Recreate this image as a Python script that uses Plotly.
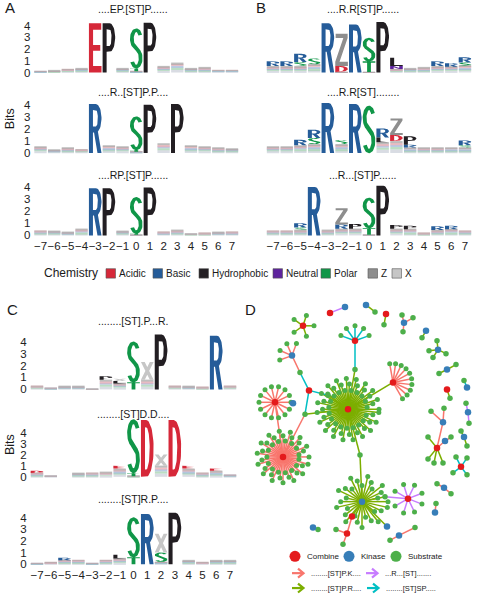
import numpy as np
import plotly.graph_objects as go

W, H = 477, 600
FONT = "Liberation Sans, Arial, sans-serif"

# chemistry colour scheme (ggseqlogo style + Z/X)
CHEM_NAMES = ["Acidic", "Basic", "Hydrophobic", "Neutral", "Polar", "Z", "X"]
CHEM_COLORS = ["#d62839", "#255c99", "#221e22", "#5e239d", "#109648", "#8e8e8e", "#c6c6c6"]
LETTER_CHEM = {"D": "Acidic", "E": "Acidic", "R": "Basic", "K": "Basic",
               "P": "Hydrophobic", "L": "Hydrophobic", "N": "Neutral",
               "S": "Polar", "T": "Polar", "Z": "Z", "X": "X"}

POSITIONS = list(range(-7, 8))

# ---------------- logo data (bits) ----------------
# A
a1_title = "....EP.[ST]P......"
a1_let = ["E", "P", "T", "S", "P"]
a1_pos = [-3, -2, 0, 0, 1]
a1_h = [4.2, 4.2, 0.25, 3.4, 4.25]
a1_noise = [0.1, 0.15, 0.3, 0.35, 0, 0, 0.35, 0.1, 0, 0.55, 0.85, 0.35, 0.4, 0.2, 0.2]

a2_title = "....R..[ST]P.P...."
a2_let = ["R", "T", "S", "P", "P"]
a2_pos = [-3, 0, 0, 1, 3]
a2_h = [4.1, 0.15, 2.8, 4.05, 4.1]
a2_noise = [0.5, 0.25, 0.4, 0.3, 0, 0.6, 0.5, 0.1, 0, 0.8, 0, 0.6, 0.5, 0.4, 0.35]

a3_title = "....RP.[ST]P......"
a3_let = ["R", "P", "T", "S", "P"]
a3_pos = [-3, -2, 0, 0, 1]
a3_h = [3.9, 3.9, 0.1, 3.0, 3.95]
a3_noise = [0.4, 0.35, 0.25, 0.5, 0, 0, 0.35, 0.05, 0, 0.3, 0.45, 0.15, 0.2, 0.25, 0.3]

# B
b1_title = "....R.R[ST]P......"
b1_let = ["R", "R", "S", "R", "S", "R", "D", "Z", "R", "T", "S", "P", "N", "L", "R", "R", "S", "R"]
b1_pos = [-7, -6, -5, -5, -4, -3, -2, -2, -1, 0, 0, 1, 2, 2, 5, 6, 7, 7]
b1_h = [0.4, 0.4, 0.35, 0.7, 0.5, 4.2, 0.5, 2.75, 4.1, 0.9, 2.0, 4.3, 0.25, 0.7, 0.4, 0.3, 0.25, 0.45]
b1_noise = [0.55, 0.55, 0.55, 0.7, 0, 0.05, 0, 0.05, 0, 0.3, 0.35, 0.4, 0.55, 0.5, 0.6]

b2_title = "....R.R[ST]........"
b2_let = ["R", "S", "R", "R", "S", "R", "S", "L", "R", "D", "Z", "R", "P", "S", "R"]
b2_pos = [-5, -4, -4, -3, -2, -1, 0, 1, 1, 2, 2, 3, 3, 7, 7]
b2_h = [0.45, 0.5, 0.7, 4.2, 0.35, 4.1, 3.95, 0.4, 0.75, 0.5, 1.4, 0.25, 0.7, 0.2, 0.4]
b2_noise = [0.55, 0.55, 0.65, 0.75, 0, 0.75, 0, 0, 0.9, 1.0, 0.45, 0.4, 0.4, 0.45, 0.45]

b3_title = "...R...[ST]P......"
b3_let = ["S", "R", "R", "R", "Z", "P", "T", "S", "P", "P", "P", "R", "R"]
b3_pos = [-5, -5, -4, -2, -2, -1, 0, 0, 1, 2, 3, 5, 6]
b3_h = [0.2, 0.35, 4.0, 0.35, 1.35, 0.4, 0.55, 2.5, 4.1, 0.3, 0.3, 0.3, 0.3]
b3_noise = [0.4, 0.4, 0.45, 0, 0.45, 0.55, 0.55, 0.05, 0, 0.55, 0.5, 0.2, 0.45, 0.5, 0.4]

# C
c1_title = "........[ST].P...R."
c1_let = ["P", "L", "X", "T", "S", "X", "P", "R"]
c1_pos = [-2, -1, -1, 0, 0, 1, 2, 6]
c1_h = [0.3, 0.2, 0.2, 0.6, 3.4, 1.5, 4.6, 4.5]
c1_noise = [0.3, 0.1, 0.25, 0.25, 0.05, 0.8, 0.5, 0, 0.8, 0, 0.3, 0.25, 0.2, 0, 0.3]

c2_title = "........[ST]D.D...."
c2_let = ["D", "E", "T", "S", "D", "X", "D", "E", "E"]
c2_pos = [-7, -1, 0, 0, 1, 2, 3, 4, 6]
c2_h = [0.2, 0.25, 0.3, 4.9, 5.2, 1.05, 5.2, 0.25, 0.2]
c2_noise = [0.35, 0.1, 0, 0.3, 0.35, 0.4, 0.75, 0.05, 0, 1.0, 0, 0.75, 0.35, 0.55, 0.2]

c3_title = "........[ST]R.P...."
c3_let = ["R", "L", "T", "S", "R", "S", "X", "P"]
c3_pos = [-5, -1, 0, 0, 1, 2, 2, 3]
c3_h = [0.2, 0.3, 0.6, 3.4, 4.3, 0.8, 1.6, 4.4]
c3_noise = [0.05, 0.15, 0.35, 0.35, 0.05, 0.35, 0.5, 0, 0, 0.2, 0, 0.3, 0.15, 0.3, 0.3]

# ---------------- network data ----------------
MOTIFS = ["PK", "PR", "SP", "R_ST"]
MOTIF_LABELS = ["........[ST]P.K....", "........[ST]P.R....", "........[ST]SP.....", "...R...[ST]......."]
MOTIF_COLORS = ["#f8766d", "#7cae00", "#00bfc4", "#c77cff"]
KIND_NAMES = ["Combine", "Kinase", "Substrate"]
KIND_COLORS = ["#e41a1c", "#377eb8", "#4daf4a"]

node_id = ["H1", "H2", "H3", "H4", "H5", "H6", "H7", "H8", "H9", "H10",
           "J1", "N4b", "N5b", "N6b", "N9b", "N10b", "K1", "R1", "R2", "L1", "L2", "K2",
           "a1", "a2", "b1", "b2", "c1", "c2", "d0", "d1", "d2", "d3", "e1", "e2",
           "f0", "f1", "f2", "f3", "f4", "g0", "g1", "g2", "h1", "h2", "i1", "i2",
           "j0", "j1", "j2", "k0", "k1", "k2", "m0", "m1", "m2", "m3", "m4", "m5", "m6",
           "n0", "n1", "n2", "o0", "o1", "o2", "o3", "o4", "p1", "p2", "p3", "q1", "q2",
           "r1", "r2", "r3", "s1", "s2"]
node_x = [348, 283, 275, 309, 355, 292, 303, 393, 362, 408,
          305, 328, 355, 300, 360, 385, 293, 352, 347, 343, 336, 387,
          330, 345, 366, 375, 386, 384, 404, 402, 413, 403, 426, 422,
          438, 437, 429, 446, 433, 447, 439, 456, 447, 450, 464, 467,
          468, 466, 469, 443, 431, 444, 437, 428, 428, 434, 443, 445, 451,
          464, 461, 467, 461, 456, 467, 453, 467, 437, 444, 451, 436, 435,
          415, 399, 390, 313, 318]
node_y = [412, 460, 405, 393, 343, 358, 328, 385, 505, 502,
          417, 398, 372, 375, 458, 500, 406, 520, 537, 548, 533, 530,
          315, 309, 307, 314, 316, 327, 325, 317, 320, 334, 333, 340,
          352, 343, 353, 356, 360, 372, 376, 367, 392, 401, 383, 390,
          415, 406, 426, 425, 414, 411, 451, 440, 462, 466, 466, 444, 440,
          440, 434, 449, 470, 460, 461, 476, 478, 487, 491, 497, 507, 516,
          531, 539, 544, 531, 533]
node_kind = ["Combine", "Combine", "Combine", "Combine", "Combine", "Kinase", "Combine", "Combine", "Kinase", "Combine",
             "Substrate", "Substrate", "Substrate", "Substrate", "Substrate", "Substrate", "Kinase", "Combine", "Combine",
             "Substrate", "Substrate", "Kinase",
             "Combine", "Kinase", "Kinase", "Substrate", "Combine", "Substrate", "Kinase", "Substrate", "Substrate",
             "Substrate", "Kinase", "Substrate",
             "Kinase", "Substrate", "Substrate", "Substrate", "Substrate", "Kinase", "Substrate", "Substrate",
             "Combine", "Substrate", "Substrate", "Kinase",
             "Kinase", "Substrate", "Substrate", "Kinase", "Substrate", "Substrate", "Combine", "Substrate",
             "Substrate", "Substrate", "Substrate", "Kinase", "Substrate",
             "Kinase", "Substrate", "Substrate", "Combine", "Substrate", "Substrate", "Substrate", "Substrate",
             "Substrate", "Kinase", "Substrate", "Substrate", "Kinase",
             "Substrate", "Kinase", "Substrate", "Kinase", "Substrate"]

edge_src = ["H5", "N5b", "H6", "N6b", "H4", "N4b", "H4", "J1", "H3", "J1", "H8", "H1", "N9b", "H9", "N10b",
            "H9", "R1", "R2", "R2", "H9",
            "a1", "b1", "c1", "d0", "d0", "d0", "e1", "f0", "f0", "f0", "f0", "g0", "g0", "h1", "i2",
            "j0", "j0", "k0", "k0", "k0", "m0", "m0", "m0", "m0", "m0", "m5", "n0", "n0",
            "o0", "o0", "o0", "o0", "p2", "p2", "q2", "r2", "r2", "s1"]
edge_dst = ["N5b", "H1", "N6b", "H4", "N4b", "H1", "J1", "H1", "H2", "H2", "H1", "N9b", "H9", "N10b", "H10",
            "R1", "R2", "L1", "L2", "K2",
            "a2", "b2", "c2", "d1", "d2", "d3", "e2", "f1", "f2", "f3", "f4", "g1", "g2", "h2", "i1",
            "j1", "j2", "k1", "k2", "m0", "m1", "m2", "m3", "m4", "m5", "m6", "n1", "n2",
            "o1", "o2", "o3", "o4", "p1", "p3", "q1", "r1", "r3", "s2"]
edge_motif = ["SP", "PR", "PK", "SP", "SP", "PR", "SP", "PR", "PK", "PK", "PR", "PR", "PR", "PR", "R_ST",
              "PR", "PK", "PK", "PK", "PR",
              "R_ST", "PR", "PR", "PK", "PK", "PK", "PR", "PR", "PR", "PR", "PR", "PR", "PR", "PR", "SP",
              "R_ST", "R_ST", "PK", "PK", "PK", "PR", "PR", "PR", "PR", "PK", "PK", "PR", "PR",
              "SP", "SP", "SP", "SP", "PK", "PK", "PK", "PK", "PK", "R_ST"]

# star hubs: substrate leaves fanned round each hub
star_hub = ["H1", "H2", "H3", "H5", "H6", "H7", "H8", "H9", "H10"]
star_n = [58, 44, 14, 5, 4, 5, 10, 28, 8]
star_r = [31, 26, 16, 15, 13, 11, 19, 26, 15]
star_a0 = [0, 0, 0, 20, 70, 0, -60, 0, -150]
star_a1 = [360, 360, 360, 160, 200, 360, 100, 360, 150]
star_motif = ["PR", "PK", "PK", "SP", "PK", "PR", "PK", "PR", "R_ST"]
RING = [1.0, 0.62, 0.82]   # alternating leaf distances on the big stars


# ---------------- glyph outlines (unit box) ----------------
def arc(cx, cy, rx, ry, a0, a1, n=24):
    t = np.radians(np.linspace(a0, a1, n))
    return [(cx + rx * np.cos(a), cy + ry * np.sin(a)) for a in t]


def signed_area(p):
    a = np.array(p, dtype=float)
    return 0.5 * np.sum(a[:, 0] * np.roll(a[:, 1], -1) - np.roll(a[:, 0], -1) * a[:, 1])


def ccw(p):
    p = list(p)
    return p if signed_area(p) > 0 else p[::-1]


def holed(outer, inner):
    o, i = ccw(outer), ccw(inner)[::-1]
    return o + [o[0]] + i + [i[0], o[0]]


def stroke(pts, half=0.15, aspect=3.4):
    c = np.array(pts, dtype=float)
    c[:, 1] *= aspect
    d = np.gradient(c, axis=0)
    d /= np.linalg.norm(d, axis=1)[:, None]
    nrm = np.column_stack([-d[:, 1], d[:, 0]])
    out = np.vstack([c + nrm * half, (c - nrm * half)[::-1]])
    out[:, 1] /= aspect
    return ccw([tuple(q) for q in out])


bowl_o = [(0, 0), (0.32, 0), (0.32, 0.42)] + arc(0.56, 0.71, 0.44, 0.29, -90, 90) + [(0, 1)]
bowl_i = [(0.32, 0.54)] + arc(0.56, 0.71, 0.15, 0.17, -90, 90) + [(0.32, 0.88)]
d_o = [(0, 0), (0.42, 0)] + arc(0.42, 0.5, 0.58, 0.5, -90, 90, 30) + [(0, 1)]
d_i = [(0.32, 0.13)] + arc(0.42, 0.5, 0.27, 0.37, -90, 90, 30) + [(0.32, 0.87)]
s_top = arc(0.5, 0.745, 0.35, 0.215, 25, 235, 30)
s_bot = arc(0.5, 0.255, 0.35, 0.215, 55, -155, 30)
s_mid = [(s_top[-1][0] + (s_bot[0][0] - s_top[-1][0]) * f, s_top[-1][1] + (s_bot[0][1] - s_top[-1][1]) * f)
         for f in np.linspace(0, 1, 8)[1:-1]]

GLYPHS = {
    "E": [ccw([(0, 0), (1, 0), (1, 0.13), (0.33, 0.13), (0.33, 0.44), (0.9, 0.44), (0.9, 0.56),
               (0.33, 0.56), (0.33, 0.87), (0.98, 0.87), (0.98, 1), (0, 1)])],
    "P": [holed(bowl_o, bowl_i)],
    "R": [holed(bowl_o, bowl_i), ccw([(0.38, 0.46), (0.7, 0.46), (1.0, 0.0), (0.68, 0.0)])],
    "D": [holed(d_o, d_i)],
    "S": [stroke(s_top + s_mid + s_bot)],
    "Z": [ccw([(0.03, 1), (0.98, 1), (0.98, 0.87), (0.34, 0.13), (1, 0.13), (1, 0), (0, 0), (0, 0.13),
               (0.64, 0.87), (0.03, 0.87)])],
    "X": [ccw([(0, 1), (0.3, 1), (1, 0), (0.7, 0)]), ccw([(0.7, 1), (1, 1), (0.3, 0), (0, 0)])],
    "T": [ccw([(0, 1), (1, 1), (1, 0.86), (0.65, 0.86), (0.65, 0), (0.35, 0), (0.35, 0.86), (0, 0.86)])],
    "L": [ccw([(0, 0), (1, 0), (1, 0.14), (0.32, 0.14), (0.32, 1), (0, 1)])],
    "N": [ccw([(0, 0), (0.28, 0), (0.28, 0.62), (0.72, 0), (1, 0), (1, 1), (0.72, 1), (0.72, 0.38),
               (0.28, 1), (0, 1)])],
}

# pale jumble of tiny letters under the main letters
NOISE_FRAC = [0.3, 0.2, 0.2, 0.15, 0.15]
NOISE_COLORS = ["#c9ced8", "#9fd1ac", "#9db4d8", "#eba7af", "#a3a3a3"]

# ---------------- layout geometry (pixels) ----------------
PANEL_X = {"A": (40.5, 232), "B": (273, 465), "C": (37, 230)}     # centre of column -7 and 7
TITLE_X = {"A": 133, "B": 363, "C": 133}
ROWS = {("A", 0): (73, 11.8, 9), ("A", 1): (154, 12.0, 93), ("A", 2): (237, 12.2, 176),
        ("B", 0): (73, 11.8, 9), ("B", 1): (154, 12.0, 93), ("B", 2): (237, 12.2, 176),
        ("C", 0): (392, 12.0, 323), ("C", 1): (480, 11.0, 417), ("C", 2): (568, 11.75, 502)}

logos = [("A", 0, a1_title, a1_let, a1_pos, a1_h, a1_noise),
         ("A", 1, a2_title, a2_let, a2_pos, a2_h, a2_noise),
         ("A", 2, a3_title, a3_let, a3_pos, a3_h, a3_noise),
         ("B", 0, b1_title, b1_let, b1_pos, b1_h, b1_noise),
         ("B", 1, b2_title, b2_let, b2_pos, b2_h, b2_noise),
         ("B", 2, b3_title, b3_let, b3_pos, b3_h, b3_noise),
         ("C", 0, c1_title, c1_let, c1_pos, c1_h, c1_noise),
         ("C", 1, c2_title, c2_let, c2_pos, c2_h, c2_noise),
         ("C", 2, c3_title, c3_let, c3_pos, c3_h, c3_noise)]

YMIN, YMAX = -0.2, 5.6

fig = go.Figure()
layout = {}
annotations = []


def ann(text, x, y, size, xanchor="center", color="#1a1a1a", angle=0):
    annotations.append(dict(text=text, x=x / W, y=1 - y / H, xref="paper", yref="paper",
                            xanchor=xanchor, yanchor="middle", showarrow=False, textangle=angle,
                            font=dict(family=FONT, size=size, color=color)))


for i, (panel, row, title, lets, pos, hts, noise) in enumerate(logos, start=1):
    sfx = "" if i == 1 else str(i)
    xa, ya = "x" + sfx, "y" + sfx
    xm7, xp7 = PANEL_X[panel]
    u = (xp7 - xm7) / 14
    xr0, xr1 = -7.6, min(7.6, 7 + (W - xp7) / u)
    y0, k, ty = ROWS[(panel, row)]

    # noise bars
    cum = 0.0
    for frac, col in zip(NOISE_FRAC, NOISE_COLORS):
        fig.add_trace(go.Bar(x=POSITIONS, y=[n * frac for n in noise], base=[n * cum for n in noise],
                             width=0.9, marker=dict(color=col, line_width=0), opacity=0.7,
                             xaxis=xa, yaxis=ya, showlegend=False, hoverinfo="skip"))
        cum += frac

    # letters stacked above the noise
    top = dict(zip(POSITIONS, noise))
    paths = {c: ([], []) for c in CHEM_NAMES}
    for let, p, h in zip(lets, pos, hts):
        b = top[p]
        top[p] = b + h
        xs, ys = paths[LETTER_CHEM[let]]
        for poly in GLYPHS[let]:
            for gx, gy in poly:
                xs.append(p - 0.46 + 0.92 * gx)
                ys.append(b + h * gy)
            xs.append(None)
            ys.append(None)
    for chem, col in zip(CHEM_NAMES, CHEM_COLORS):
        xs, ys = paths[chem]
        if xs:
            fig.add_trace(go.Scatter(x=xs, y=ys, mode="lines", fill="toself", fillcolor=col,
                                     line=dict(width=0, color=col), xaxis=xa, yaxis=ya,
                                     showlegend=False, hoverinfo="skip"))

    layout["xaxis" + sfx] = dict(domain=[(xm7 + (xr0 + 7) * u) / W, (xm7 + (xr1 + 7) * u) / W],
                                 range=[xr0, xr1], anchor=ya, showgrid=False, zeroline=False,
                                 showline=False, ticks="", tickvals=POSITIONS, tickangle=0,
                                 ticklabeloverflow="allow",
                                 showticklabels=(row == 2), tickfont=dict(family=FONT, size=11.5, color="#222"),
                                 fixedrange=True)
    layout["yaxis" + sfx] = dict(domain=[1 - (y0 - YMIN * k) / H, 1 - (y0 - YMAX * k) / H],
                                 range=[YMIN, YMAX], anchor=xa, showgrid=False, zeroline=False,
                                 showline=False, ticks="", tickvals=[0, 1, 2, 3, 4],
                                 showticklabels=(panel != "B"), ticklabelstandoff=1,
                                 tickfont=dict(family=FONT, size=11.5, color="#222"), fixedrange=True)
    ann(title, TITLE_X[panel], ty, 10.5)

# ---------------- network (overlay axis in pixel units) ----------------
NX, NY = "x10", "y10"
layout["xaxis10"] = dict(domain=[0, 1], range=[0, W], visible=False, fixedrange=True, anchor=NY)
layout["yaxis10"] = dict(domain=[0, 1], range=[H, 0], visible=False, fixedrange=True, anchor=NX)

npos = {n: (x, y) for n, x, y in zip(node_id, node_x, node_y)}
edges = {m: ([], []) for m in MOTIFS}
leaf_x, leaf_y = [], []
for hub, n, r, a0, a1, motif in zip(star_hub, star_n, star_r, star_a0, star_a1, star_motif):
    hx, hy = npos[hub]
    full = (a1 - a0) >= 360
    for j, a in enumerate(np.linspace(a0, a1, n, endpoint=not full)):
        rr = r if n < 20 else r * RING[j % 3]
        lx, ly = hx + rr * np.cos(np.radians(a)), hy - rr * np.sin(np.radians(a))
        leaf_x.append(lx)
        leaf_y.append(ly)
        edges[motif][0].extend([hx, lx, None])
        edges[motif][1].extend([hy, ly, None])
for s, d, m in zip(edge_src, edge_dst, edge_motif):
    edges[m][0].extend([npos[s][0], npos[d][0], None])
    edges[m][1].extend([npos[s][1], npos[d][1], None])

for m, col in zip(MOTIFS, MOTIF_COLORS):
    fig.add_trace(go.Scatter(x=edges[m][0], y=edges[m][1], mode="lines",
                             line=dict(color=col, width=1.5), xaxis=NX, yaxis=NY,
                             showlegend=False, hoverinfo="skip"))

fig.add_trace(go.Scatter(x=leaf_x, y=leaf_y, mode="markers",
                         marker=dict(color=KIND_COLORS[2], size=5, line_width=0),
                         xaxis=NX, yaxis=NY, showlegend=False, hoverinfo="skip"))
for kind, col in zip(["Substrate", "Kinase", "Combine"], [KIND_COLORS[2], KIND_COLORS[1], KIND_COLORS[0]]):
    sel = [q for q, kk in enumerate(node_kind) if kk == kind]
    fig.add_trace(go.Scatter(x=[node_x[q] for q in sel], y=[node_y[q] for q in sel], mode="markers",
                             marker=dict(color=col, size=5.5 if kind == "Substrate" else 6.5, line_width=0),
                             xaxis=NX, yaxis=NY, showlegend=False, hoverinfo="skip"))

# network legend
leg_x = [295, 349, 396]
fig.add_trace(go.Scatter(x=leg_x, y=[560] * 3, mode="markers",
                         marker=dict(color=KIND_COLORS, size=11, line_width=0),
                         xaxis=NX, yaxis=NY, showlegend=False, hoverinfo="skip"))
for x, name in zip(leg_x, KIND_NAMES):
    ann(name, x + 10, 560, 8, xanchor="left")

arrow_xy = [(292, 577), (292, 592), (367, 592), (366, 577)]
for (ax, ay), col, lab in zip(arrow_xy, MOTIF_COLORS, MOTIF_LABELS):
    fig.add_trace(go.Scatter(x=[ax, ax + 11, None, ax + 6, ax + 11.5, ax + 6],
                             y=[ay, ay, None, ay - 4.5, ay, ay + 4.5], mode="lines",
                             line=dict(color=col, width=2.2), xaxis=NX, yaxis=NY,
                             showlegend=False, hoverinfo="skip"))
    ann(lab, ax + 17, ay, 7.5, xanchor="left")

# ---------------- chemistry legend ----------------
box_x = [106, 153, 199, 273, 321, 368, 392]
shapes = []
for bx, name, col in zip(box_x, CHEM_NAMES, CHEM_COLORS):
    shapes.append(dict(type="rect", xref=NX, yref=NY, x0=bx, x1=bx + 9.5, y0=270.5, y1=280,
                       fillcolor=col, line=dict(color="#555", width=0.6)))
    ann(name, bx + 11, 275, 10, xanchor="left")
ann("Chemistry", 100, 275, 12, xanchor="right")

# panel letters, axis titles
ann("A", 10, 8, 15)
ann("B", 261, 8, 15)
ann("C", 12, 312, 15)
ann("D", 250, 312, 15)
ann("Bits", 10, 120, 12.5, angle=-90)
ann("Bits", 10, 448, 12.5, angle=-90)

fig.update_layout(width=W, height=H, margin=dict(l=0, r=0, t=0, b=0), autosize=False,
                  paper_bgcolor="white", plot_bgcolor="rgba(0,0,0,0)", barmode="overlay",
                  showlegend=False, annotations=annotations, shapes=shapes,
                  font=dict(family=FONT), **layout)

fig.write_html("out.html", config={"displayModeBar": False},
               post_script="document.body.style.margin = '0';")
